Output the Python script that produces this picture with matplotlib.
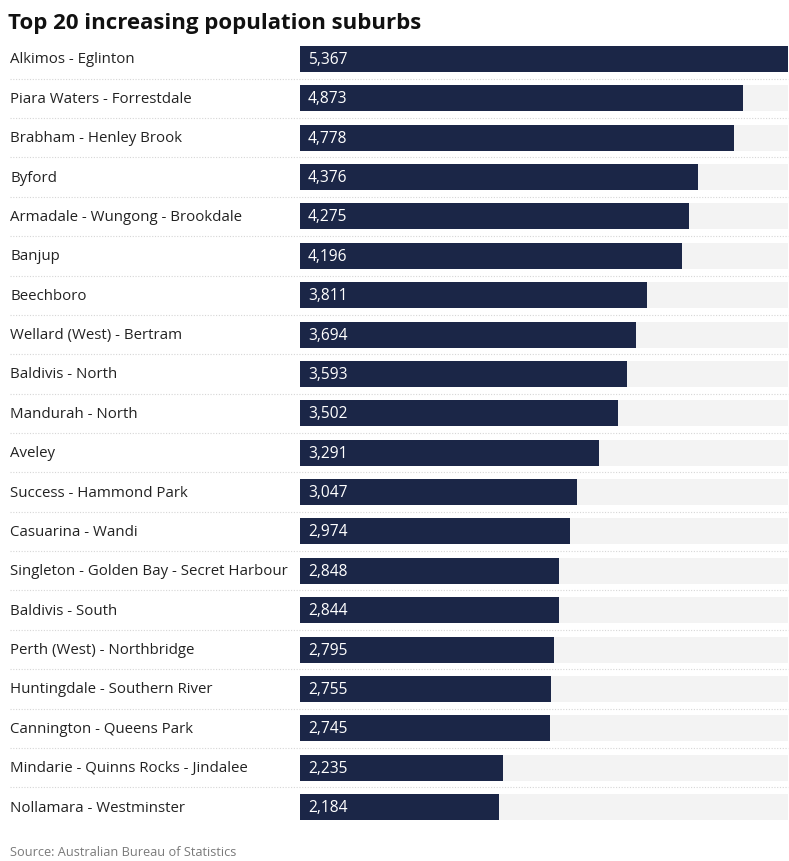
import matplotlib
matplotlib.use("Agg")
import matplotlib.pyplot as plt
from matplotlib.lines import Line2D
import matplotlib.transforms as mtransforms

suburbs = ["Alkimos - Eglinton", "Piara Waters - Forrestdale", "Brabham - Henley Brook",
           "Byford", "Armadale - Wungong - Brookdale", "Banjup", "Beechboro",
           "Wellard (West) - Bertram", "Baldivis - North", "Mandurah - North", "Aveley",
           "Success - Hammond Park", "Casuarina - Wandi",
           "Singleton - Golden Bay - Secret Harbour", "Baldivis - South",
           "Perth (West) - Northbridge", "Huntingdale - Southern River",
           "Cannington - Queens Park", "Mindarie - Quinns Rocks - Jindalee",
           "Nollamara - Westminster"]
increase = [5367, 4873, 4778, 4376, 4275, 4196, 3811, 3694, 3593, 3502, 3291,
            3047, 2974, 2848, 2844, 2795, 2755, 2745, 2235, 2184]

plt.rcParams['font.family'] = ['Open Sans', 'DejaVu Sans']

W, H = 789, 862
fig = plt.figure(figsize=(W / 100, H / 100), dpi=100)
ax = fig.add_axes([300 / W, 1 - 827.7 / H, 488 / W, 787.4 / H])

n = len(suburbs)
ypos = list(range(n))
vmax = max(increase)
ax.barh(ypos, [vmax] * n, height=0.66, color="#f3f3f3", left=0)
ax.barh(ypos, increase, height=0.66, color="#1b2647", left=0)
ax.set_xlim(0, vmax)
ax.set_ylim(n - 0.5, -0.5)
ax.axis("off")

for y, v in zip(ypos, increase):
    ax.text(vmax * 8 / 488, y, f"{v:,}", color="white", fontsize=11.2,
            va="center", ha="left")

trans = mtransforms.blended_transform_factory(fig.transFigure, ax.transData)
for y, name in zip(ypos, suburbs):
    fig.text(10 / W, y, name, transform=trans, fontsize=10.8, color="#222222",
             va="center", ha="left")
for i in range(n - 1):
    fig.add_artist(Line2D([10 / W, 788 / W], [i + 0.5, i + 0.5], transform=trans,
                          color="#d6d6d6", lw=0.8, linestyle=(0, (1, 1.5))))

fig.text(8 / W, 1 - 23 / H, "Top 20 increasing population suburbs", fontsize=16,
         fontweight="bold", color="#111111", va="center", ha="left")
fig.text(10 / W, 1 - 853 / H, "Source: Australian Bureau of Statistics", fontsize=9.2,
         color="#7a7a7a", va="center", ha="left")

fig.savefig("out.png", dpi=100)
